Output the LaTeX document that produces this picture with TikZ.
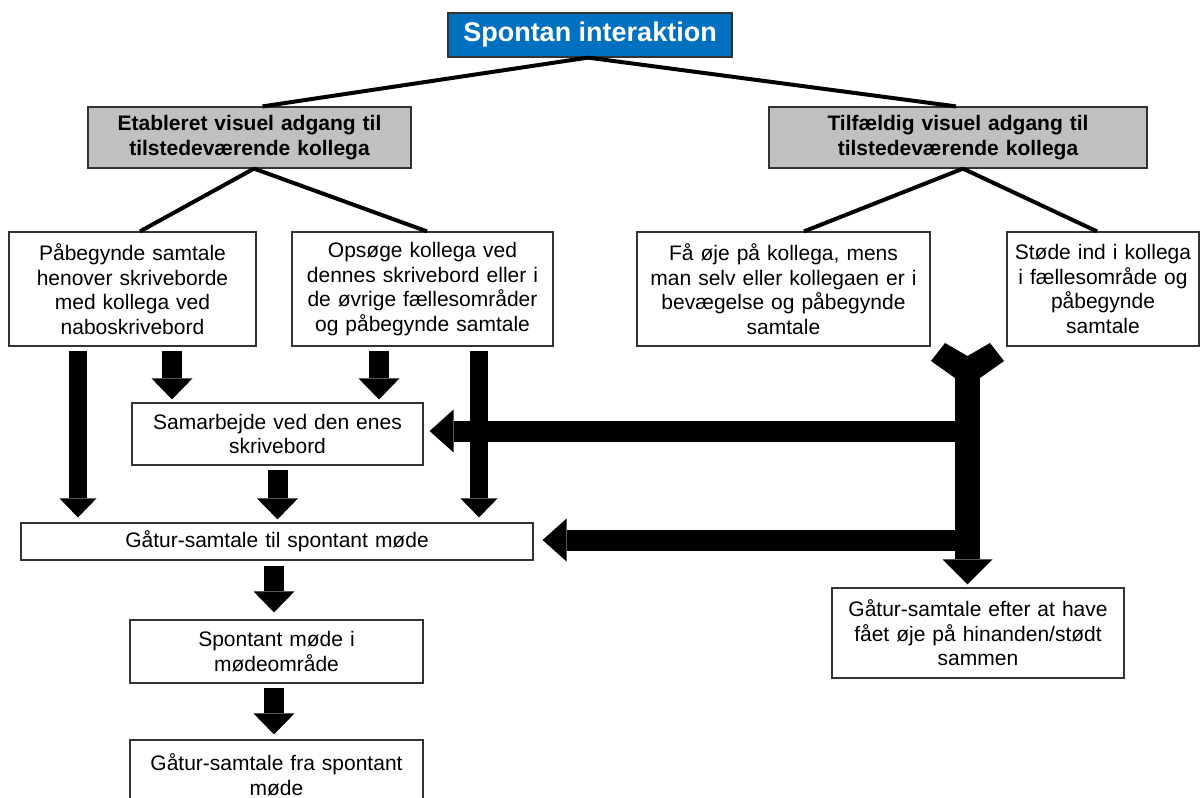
\documentclass[tikz,border=0pt]{standalone}
\usepackage{fontspec}
\setmainfont{Liberation Sans}
\usetikzlibrary{arrows.meta,calc}
\definecolor{titleblue}{RGB}{0,112,192}
\definecolor{boxgray}{RGB}{192,192,192}
\begin{document}
\begin{tikzpicture}[x=0.5pt,y=-0.5pt,
  boxsize/.style 2 args={text width=#1pt, minimum height=#2pt},
  box/.style={draw=black!80, line width=0.6pt, fill=white, align=center, inner sep=0pt,
    font=\fontsize{10.5}{12.3}\selectfont},
  graybox/.style={box, fill=boxgray, font=\bfseries\fontsize{10.5}{12.5}\selectfont},
  titlebox/.style={draw=black!80, line width=0.6pt, fill=titleblue, text=white, inner sep=0pt,
    minimum width=142pt, minimum height=22pt, font=\bfseries\fontsize{13.5}{16}\selectfont},
  link/.style={line width=2pt},
  blk/.style={line width=10pt, -{Triangle[width=20.5pt,length=10.5pt,line width=0pt]}},
  blkthin/.style={line width=9pt, -{Triangle[width=18.5pt,length=9.5pt,line width=0pt]}},
  hblk/.style={line width=10.5pt, -{Triangle[width=21.5pt,length=12pt,line width=0pt]}},
  bigblk/.style={line width=12.5pt, -{Triangle[width=25pt,length=12.5pt,line width=0pt]}}
]
\fill[white] (0,0) rectangle (1200,798);
\useasboundingbox (0,0) rectangle (1200,798);

% nodes
\node[titlebox] (top) at (590,35) {Spontan interaktion};
\node[graybox, boxsize={161.5}{30.5}] (lg) at (249.5,137.5) {Etableret visuel adgang til\\tilstedeværende kollega};
\node[graybox, boxsize={189}{30.5}] (rg) at (958,137.5) {Tilfældig visuel adgang til\\tilstedeværende kollega};
\node[box, boxsize={123.5}{57}] (A) at (132.5,289) {Påbegynde samtale\\henover skriveborde\\med kollega ved\\naboskrivebord};
\node[box, boxsize={130.5}{57}] (B) at (422.5,289) {Opsøge kollega ved\\dennes skrivebord eller i\\de øvrige fællesområder\\og påbegynde samtale};
\node[box, boxsize={146.5}{57}] (C) at (783.5,289) {Få øje på kollega, mens\\man selv eller kollegaen er i\\bevægelse og påbegynde\\samtale};
\node[box, boxsize={96}{57}] (D) at (1103,289) {Støde ind i kollega\\i fællesområde og\\påbegynde\\samtale};
\node[box, boxsize={145.5}{31}] (S) at (277.5,434) {Samarbejde ved den enes\\skrivebord};
\node[box, boxsize={256}{18.5}] (G) at (277,541.5) {Gåtur-samtale til spontant møde};
\node[box, boxsize={146.5}{31.5}] (M) at (276.5,651.5) {Spontant møde i\\mødeområde};
\node[box, boxsize={146.5}{35}] (F) at (276.5,775) {Gåtur-samtale fra spontant\\møde};
\node[box, boxsize={146}{45}] (E) at (978,633) {Gåtur-samtale efter at have\\fået øje på hinanden/stødt\\sammen};

% tree connectors
\draw[link] ($(top.south)+(-2,0)$) -- ($(lg.north)+(13,0)$);
\draw[link] ($(top.south)+(-2,0)$) -- ($(rg.north)+(-2,0)$);
\draw[link] ($(lg.south)+(4.5,0)$) -- ($(A.north)+(7.5,0)$);
\draw[link] ($(lg.south)+(4.5,0)$) -- ($(B.north)+(4.5,0)$);
\draw[link] ($(rg.south)+(5,0)$) -- ($(C.north)+(20.5,0)$);
\draw[link] ($(rg.south)+(5,0)$) -- ($(D.north)+(-6,0)$);

% block arrows on the left
\draw[blkthin] ($(A.south)+(-54.5,4)$) -- ($(G.north)+(-199,-5)$);
\draw[blk] ($(A.south)+(39.5,4)$) -- ($(S.north)+(-105.5,-3)$);
\draw[blk] ($(B.south)+(-43.5,4)$) -- ($(S.north)+(101.5,-3)$);
\draw[blkthin] ($(B.south)+(56.5,4)$) -- ($(G.north)+(202,-5)$);
\draw[blk] ($(S.south)+(0,4)$) -- ($(G.north)+(0.5,-3)$);
\draw[blk] ($(G.south)+(-3,5)$) -- ($(M.north)+(-2.5,-7)$);
\draw[blk] ($(M.south)+(-2.5,4)$) -- ($(F.north)+(-2.5,-5)$);

% right merging arrow
\coordinate (fk) at (967.5,376);
\coordinate (h1) at (967.5,431);
\coordinate (h2) at (967.5,540);
\draw[hblk] (h1) -- ($(S.east)+(6,-3)$);
\draw[hblk] (h2) -- ($(G.east)+(9,-1.5)$);
\draw[bigblk] (fk) -- ($(E.north -| fk)+(0,-3)$);
\fill (955,378) -- (931,361) -- (945,343) -- (967.5,356) -- (990,343) -- (1004,361) -- (980,378) -- cycle;
\end{tikzpicture}
\end{document}
